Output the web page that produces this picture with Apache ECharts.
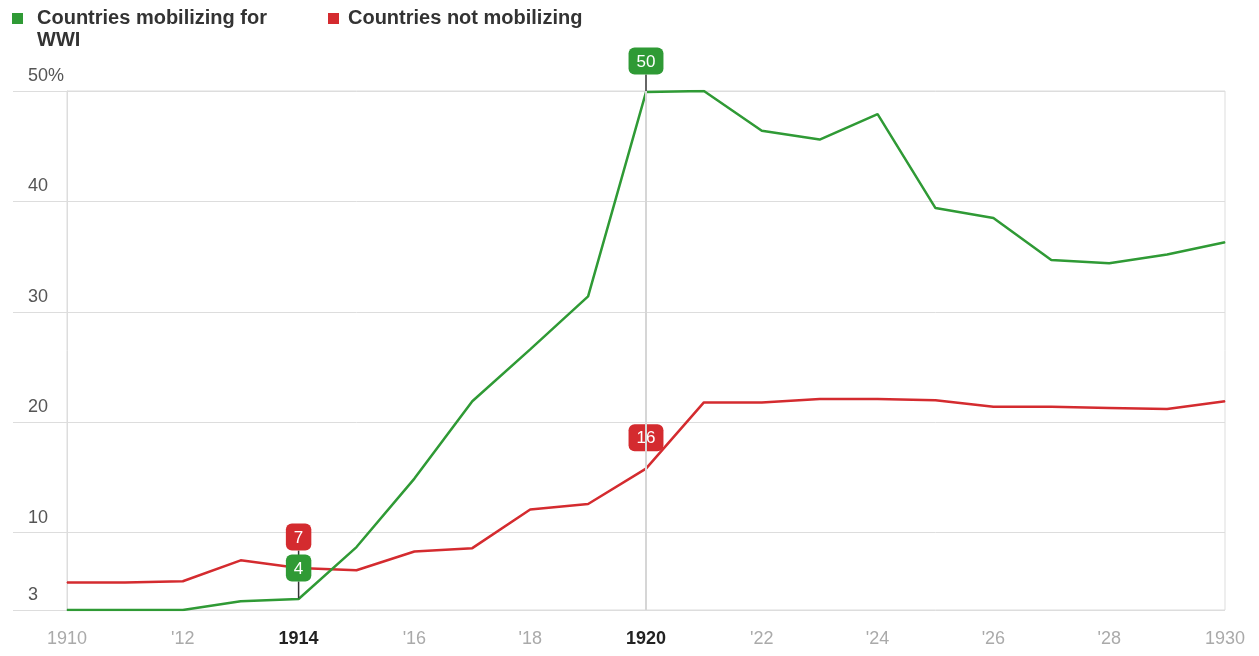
<!DOCTYPE html>
<html><head><meta charset="utf-8">
<script src="https://cdn.jsdelivr.net/npm/echarts@6/dist/echarts.min.js"></script>
<style>html,body{margin:0;padding:0;background:#fff}#c{width:1259px;height:656px}</style>
</head><body><div id="c"></div>
<script>
const years = [1910,1911,1912,1913,1914,1915,1916,1917,1918,1919,1920,1921,1922,1923,1924,1925,1926,1927,1928,1929,1930];
const mobilizing = [3.0,3.0,3.0,3.8,4.0,8.7,14.9,21.9,26.6,31.4,49.9,50.0,46.4,45.6,47.9,39.4,38.5,34.7,34.4,35.2,36.3];
const notMobilizing = [5.5,5.5,5.6,7.5,6.8,6.6,8.3,8.6,12.1,12.6,15.8,21.8,21.8,22.1,22.1,22.0,21.4,21.4,21.3,21.2,21.9];
const yTicks = [3,10,20,30,40,50];
const highlightYears = [1914, 1920];
const seriesNames = ['Countries mobilizing for WWI', 'Countries not mobilizing'];

const GREEN = '#2f9a35', RED = '#d42b2f';
const FONT = 'Liberation Sans, Arial, sans-serif';

function build(vals, color) {
  return years.map((y, i) => {
    const item = { value: [y, vals[i]] };
    if (highlightYears.includes(y)) {
      item.label = {
        show: true, position: 'top', distance: 0,
        formatter: p => String(Math.round(p.value[1])),
        color: '#fff', fontSize: 17, fontFamily: FONT,
        backgroundColor: color, borderRadius: 6, padding: [6, 8, 4, 8]
      };
      item.labelLine = { show: true, lineStyle: { color: '#333', width: 1.5 } };
    }
    return item;
  });
}

const chart = echarts.init(document.getElementById('c'), null, { renderer: 'canvas' });
chart.setOption({
  animation: false,
  backgroundColor: '#fff',
  grid: { left: 67, right: 34, top: 91, bottom: 46, show: true, borderColor: '#ddd', borderWidth: 1 },
  legend: {
    left: 12, top: -14.5, padding: 0, itemWidth: 11, itemHeight: 11, itemGap: 61, icon: 'rect',
    data: [
      { name: seriesNames[0], textStyle: { padding: [0, 0, 0, 9] } },
      { name: seriesNames[1], textStyle: { padding: [0, 0, 0, 4] } }
    ],
    formatter: n => n === seriesNames[0] ? '\nCountries mobilizing for\nWWI' : n,
    textStyle: { fontSize: 20, fontWeight: 'bold', color: '#333', fontFamily: FONT, lineHeight: 22 },
    selectedMode: false
  },
  xAxis: {
    type: 'value', min: 1910, max: 1930, interval: 2,
    axisLine: { show: false }, axisTick: { show: false }, splitLine: { show: false },
    axisLabel: {
      margin: 20, fontSize: 18, color: '#aaa', fontFamily: FONT,
      showMinLabel: true, showMaxLabel: true,
      formatter: v => {
        if (highlightYears.includes(v)) return '{b|' + v + '}';
        if (v === 1910 || v === 1930) return String(v);
        return "'" + String(v).slice(2);
      },
      rich: { b: { fontWeight: 'bold', color: '#222', fontSize: 18, fontFamily: FONT } }
    }
  },
  yAxis: {
    type: 'value', min: 3, max: 50,
    axisLine: { show: true, lineStyle: { color: '#ddd' } },
    axisTick: { show: true, customValues: yTicks, length: 54, lineStyle: { color: '#ddd' } },
    axisLabel: {
      customValues: yTicks, formatter: v => v === 50 ? '50%' : String(v),
      align: 'left', verticalAlign: 'bottom', margin: 39, padding: [0, 0, 6, 0],
      fontSize: 18, color: '#555', fontFamily: FONT
    },
    splitLine: { show: true, lineStyle: { color: '#ddd' } }
  },
  series: [
    {
      name: seriesNames[1], type: 'line', data: build(notMobilizing, RED),
      color: RED, lineStyle: { width: 2.5, color: RED }, itemStyle: { color: RED },
      symbol: 'circle', symbolSize: 1, showSymbol: true,
      labelLayout: { dy: -17 }, emphasis: { disabled: true }, silent: true,
      markLine: {
        silent: true, symbol: 'none', label: { show: false },
        lineStyle: { color: '#d6d6d6', width: 2, type: 'solid' },
        data: [{ xAxis: highlightYears[1] }]
      }
    },
    {
      name: seriesNames[0], type: 'line', data: build(mobilizing, GREEN),
      color: GREEN, lineStyle: { width: 2.5, color: GREEN }, itemStyle: { color: GREEN },
      symbol: 'circle', symbolSize: 1, showSymbol: true,
      labelLayout: { dy: -17 }, emphasis: { disabled: true }, silent: true
    }
  ]
});
</script></body></html>
